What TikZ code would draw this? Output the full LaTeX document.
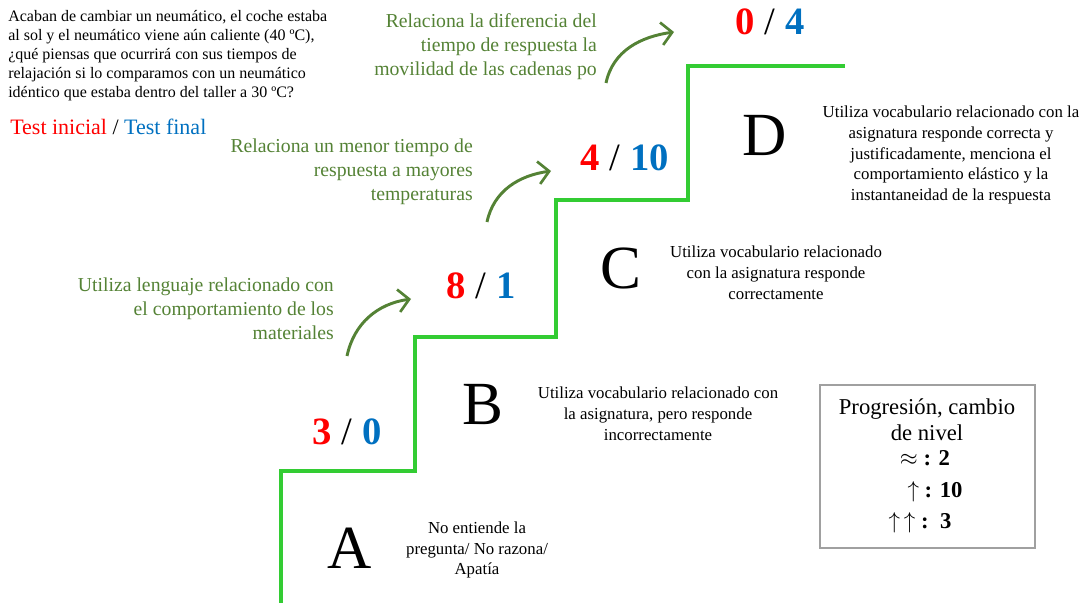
\documentclass[tikz,border=0pt]{standalone}
\usepackage{fontspec}
\setmainfont{Liberation Serif}
\usetikzlibrary{arrows.meta}
\definecolor{stair}{RGB}{51,204,51}
\definecolor{olive}{RGB}{84,130,53}
\definecolor{tred}{RGB}{255,0,0}
\definecolor{tblue}{RGB}{0,112,192}
\definecolor{boxgray}{RGB}{160,160,160}
\tikzset{
  desc/.style={align=center, font=\fontsize{12.6}{15.7}\selectfont, inner sep=0pt},
  green text/.style={align=right, text=olive, font=\fontsize{14.8}{18}\selectfont, inner sep=0pt, anchor=east},
  letter/.style={font=\fontsize{46}{46}\selectfont, inner sep=0pt},
  score/.style={font=\fontsize{29}{29}\selectfont\bfseries, inner sep=0pt},
  greenarrow/.style={draw=olive, line width=2.2pt, -{Straight Barb[length=8pt,width=17pt,line width=2pt]}},
  stairline/.style={draw=stair, line width=2.4pt},
  boxtext/.style={inner sep=0pt, font=\fontsize{17}{19.5}\selectfont},
}
\begin{document}
\begin{tikzpicture}[x=0.75pt,y=-0.75pt]
\useasboundingbox (0,0) rectangle (1085,603);
% staircase
\coordinate (s0) at (281,603);
\coordinate (s1) at (281,471);
\coordinate (s2) at (415,471);
\coordinate (s3) at (415,337);
\coordinate (s4) at (556,337);
\coordinate (s5) at (556,200);
\coordinate (s6) at (688,200);
\coordinate (s7) at (688,66);
\coordinate (s8) at (845,66);
\draw[stairline] (s0) -- (s1) -- (s2) -- (s3) -- (s4) -- (s5) -- (s6) -- (s7) -- (s8);

% question
\node[anchor=north west, align=left, inner sep=0pt, font=\fontsize{12}{14.3}\selectfont] (q) at (8,10)
  {Acaban de cambiar un neumático, el coche estaba\\
   al sol y el neumático viene aún caliente (40 ºC),\\
   ¿qué piensas que ocurrirá con sus tiempos de\\
   relajación si lo comparamos con un neumático\\
   idéntico que estaba dentro del taller a 30 ºC?};
\node[anchor=west, inner sep=0pt, font=\fontsize{16.5}{20}\selectfont] (legend) at (10,127)
  {\textcolor{tred}{Test inicial} / \textcolor{tblue}{Test final}};

% scores
\node[score] (sc1) at (347,432) {\textcolor{tred}{3} \textmd{/} \textcolor{tblue}{0}};
\node[score] (sc2) at (481,286) {\textcolor{tred}{8} \textmd{/} \textcolor{tblue}{1}};
\node[score] (sc3) at (625,158) {\textcolor{tred}{4} \textmd{/} \textcolor{tblue}{10}};
\node[score] (sc4) at (770,22) {\textcolor{tred}{0} \textmd{/} \textcolor{tblue}{4}};

% letters
\node[letter] (A) at (350,548) {A};
\node[letter] (B) at (483,405) {B};
\node[letter] (C) at (621,268) {C};
\node[letter] (D) at (765,135) {D};

% descriptions
\node[desc] (dA) at (477,550) {No entiende la\\pregunta/ No razona/\\Apatía};
\node[desc] (dB) at (658,414) {Utiliza vocabulario relacionado con\\la asignatura, pero responde\\incorrectamente};
\node[desc] (dC) at (776,273) {Utiliza vocabulario relacionado\\con la asignatura responde\\correctamente};
\node[desc] (dD) at (951,155) {Utiliza vocabulario relacionado con la\\asignatura responde correcta y\\justificadamente, menciona el\\comportamiento elástico y la\\instantaneidad de la respuesta};

% green texts
\node[green text] (g1) at (334,309) {Utiliza lenguaje relacionado con\\el comportamiento de los\\materiales};
\node[green text] (g2) at (473,172) {Relaciona un menor tiempo de\\respuesta a mayores\\temperaturas};
\node[green text] (g3) at (597,47) {Relaciona la diferencia del\\tiempo de respuesta la\\movilidad de las cadenas po};

% green arrows
\coordinate (a1s) at (347,356);
\coordinate (a1e) at (411,299);
\coordinate (a2s) at (487,222);
\coordinate (a2e) at (551,171);
\coordinate (a3s) at (606,83);
\coordinate (a3e) at (674,32);
\draw[greenarrow] (a1s) to[out=78,in=188] (a1e);
\draw[greenarrow] (a2s) to[out=78,in=188] (a2e);
\draw[greenarrow] (a3s) to[out=78,in=188] (a3e);

% progression box
\node[draw=boxgray, line width=0.9pt, minimum width=215*0.75pt, minimum height=163*0.75pt, inner sep=0pt] (box) at (927.5,466.5) {};
\node[boxtext, align=center] (p1) at (927,420) {Progresión, cambio\\de nivel};
\node[boxtext, font=\fontsize{17}{19.5}\selectfont\bfseries] (p2) at (925,458) {$\approx$ : 2};
\node[boxtext, font=\fontsize{17}{19.5}\selectfont\bfseries] (p3) at (935,492) {$\uparrow$ : 10};
\node[boxtext, font=\fontsize{17}{19.5}\selectfont\bfseries] (p4) at (920,523) {$\uparrow\,\uparrow$ :\ \ 3};
\end{tikzpicture}
\end{document}
